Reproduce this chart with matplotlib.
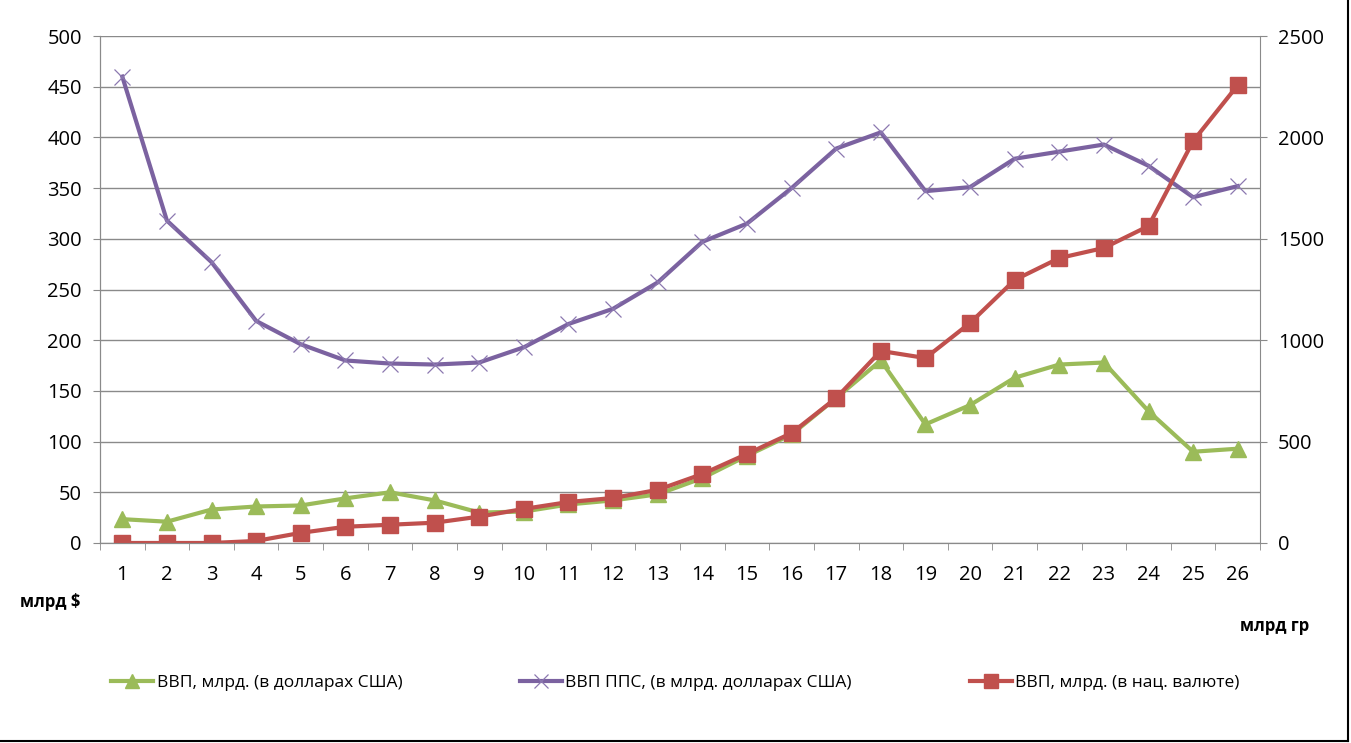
"""GDP chart: USD, PPP and national currency."""

import matplotlib
matplotlib.use("Agg")
import matplotlib.pyplot as plt
from matplotlib.lines import Line2D
import numpy as np

plt.rcParams["font.family"] = ["Open Sans", "DejaVu Sans"]

years = list(range(1, 27))
gdp_usd = [23.5, 21, 33, 36, 37, 44, 50, 42, 30, 31, 38, 42, 48, 64, 86, 107,
           143, 180, 117, 136, 163, 176, 178, 130, 90, 93]
gdp_ppp = [460, 318, 277, 219, 196, 180, 177, 176, 178, 193, 216, 231, 257, 297,
           315, 350, 389, 405, 347, 351, 379, 386, 393, 372, 341, 352]
gdp_nat = [0, 0, 0, 10, 50, 80, 90, 100, 130, 168, 202, 222, 262, 340, 439, 542,
           715, 947, 912, 1085, 1297, 1405, 1455, 1563, 1982, 2258]

labels = ["ВВП, млрд. (в долларах США)",
          "ВВП ППС, (в млрд. долларах США)",
          "ВВП, млрд. (в нац. валюте)"]

GREEN = "#9BBB59"
PURPLE = "#7B62A0"
RED = "#C0504D"
GRID = "#8A8A8A"

fig = plt.figure(figsize=(13.51, 7.43), dpi=100)
ax = fig.add_axes([0.074, 0.2692, 0.8587, 0.6823])
ax2 = ax.twinx()

x = np.arange(len(years))
l_ppp, = ax.plot(x, gdp_ppp, color=PURPLE, lw=3, marker="x", ms=11,
                 mew=0.9, mec="#8C78B0", label=labels[1])
l_usd, = ax.plot(x, gdp_usd, color=GREEN, lw=3, marker="^", ms=11,
                 label=labels[0])
l_nat, = ax2.plot(x, gdp_nat, color=RED, lw=3, marker="s", ms=11,
                  label=labels[2])

ax.set_xlim(-0.5, len(years) - 0.5)
ax.set_ylim(0, 500)
ax.set_yticks(np.arange(0, 501, 50))
ax2.set_ylim(0, 2500)
ax2.set_yticks(np.arange(0, 2501, 500))

ax.set_xticks(x)
ax.set_xticklabels([str(y) for y in years])
ax.set_xticks(np.arange(-0.5, len(years)), minor=True)
ax.tick_params(axis="x", which="major", length=0, pad=16, labelsize=14.5)
ax.tick_params(axis="x", which="minor", length=5, color=GRID, direction="out")
ax.tick_params(axis="y", length=5, color=GRID, pad=8, labelsize=14.5)
ax2.tick_params(axis="y", length=5, color=GRID, pad=8, labelsize=14.5)

ax.yaxis.grid(True, color=GRID, lw=1)
ax.set_axisbelow(True)
for a in (ax, ax2):
    a.spines["top"].set_visible(False)
    for s in ("left", "right", "bottom"):
        a.spines[s].set_color(GRID)
ax.spines["right"].set_visible(False)

fig.text(0.015, 0.19, "млрд $", fontsize=12, fontweight="bold", va="center")
fig.text(0.918, 0.158, "млрд гр", fontsize=12, fontweight="bold", va="center")

fig.legend(handles=[l_usd, l_ppp, l_nat], loc="center", ncol=3,
           bbox_to_anchor=(0.5, 0.081), frameon=False, fontsize=12.5,
           columnspacing=6.8, handlelength=2.4, handletextpad=0.2,
           markerscale=0.9)

# outer frame edges visible on the right and bottom
fig.add_artist(Line2D([0.998, 0.998], [0.003, 1.0], color="black", lw=1.5,
                      transform=fig.transFigure))
fig.add_artist(Line2D([0.0, 0.998], [0.003, 0.003], color="black", lw=1.5,
                      transform=fig.transFigure))

fig.savefig("out.png", dpi=100)
